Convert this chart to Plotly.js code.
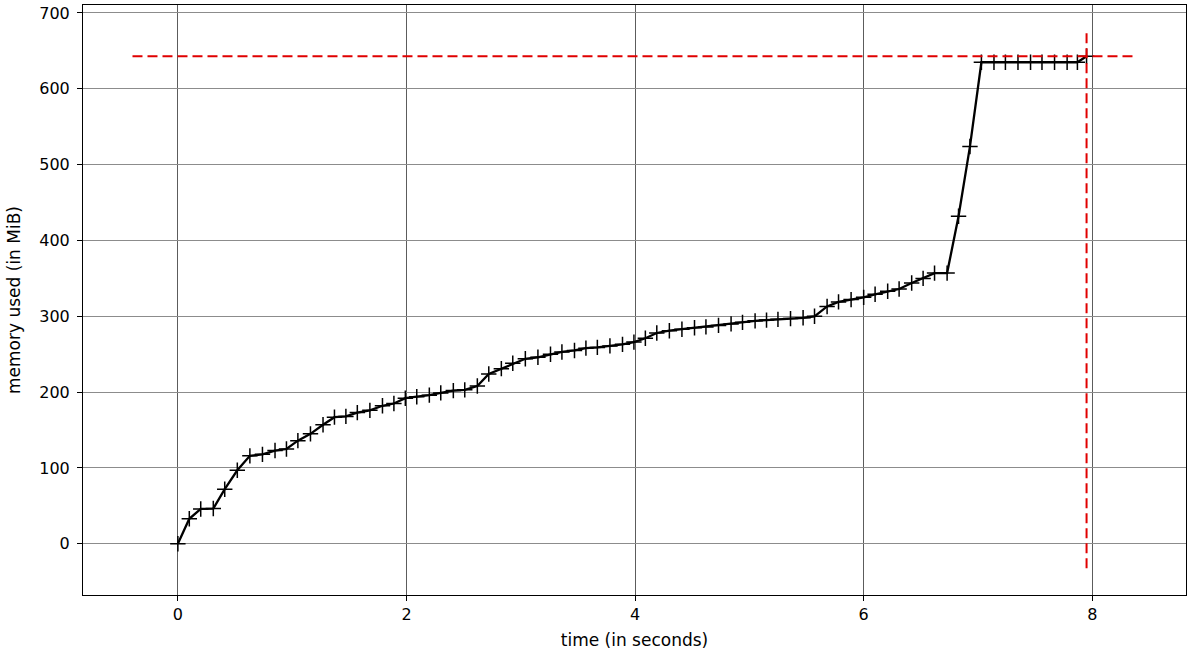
<!DOCTYPE html>
<html>
<head>
<meta charset="utf-8">
<script src="https://cdn.plot.ly/plotly-3.0.1.min.js"></script>
<style>html,body{margin:0;padding:0;background:#fff;}#chart{width:1192px;height:656px;}</style>
</head>
<body>
<div id="chart"></div>
<script>
// time (in seconds)
const times = [0, 0.1, 0.2, 0.31, 0.41, 0.52, 0.63, 0.74, 0.85, 0.95,
  1.05, 1.16, 1.27, 1.37, 1.47, 1.57, 1.68, 1.79, 1.89, 1.99,
  2.09, 2.2, 2.3, 2.41, 2.51, 2.62, 2.72, 2.83, 2.93, 3.04,
  3.15, 3.26, 3.36, 3.47, 3.57, 3.67, 3.78, 3.89, 3.99, 4.09,
  4.19, 4.3, 4.41, 4.52, 4.62, 4.73, 4.84, 4.94, 5.05, 5.15,
  5.25, 5.36, 5.47, 5.57, 5.68, 5.78, 5.89, 6.0, 6.1, 6.21,
  6.31, 6.42, 6.52, 6.62, 6.73, 6.83, 6.93, 7.03, 7.14, 7.24,
  7.35, 7.46, 7.56, 7.67, 7.78, 7.87, 7.95];
// memory used (in MiB)
const memory = [0, 33, 46, 46.5, 72, 97, 116, 118, 123, 125,
  136, 145, 157, 167, 168, 173, 176, 182, 185, 192,
  194, 196, 199, 202, 203, 208, 224, 231, 238, 244,
  246, 250, 253, 255, 258, 259, 261, 263, 266, 271,
  278, 281, 283, 285, 286, 288, 290, 292, 294, 295,
  296, 297, 298, 300, 313, 319, 322, 325, 329, 333,
  336, 344, 350, 357, 357, 432, 524, 635, 635, 635,
  635, 635, 635, 635, 635, 635, 643];
// peak marker lines
const peakMem = 643;
const peakTime = 7.95;
const hlineX = [-0.397, 8.366];
const vlineY = [-32.15, 675.15];
const xTicks = [0, 2, 4, 6, 8];
const yTicks = [0, 100, 200, 300, 400, 500, 600, 700];

const traces = [
  {
    x: times, y: memory, type: 'scatter', mode: 'lines+markers',
    line: {color: '#000000', width: 2.3},
    marker: {symbol: 'cross-thin', size: 11, line: {color: '#000000', width: 1.5}},
    hoverinfo: 'x+y'
  },
  {
    x: hlineX, y: [peakMem, peakMem], type: 'scatter', mode: 'lines',
    line: {color: '#e00000', width: 2, dash: '10px,5px'}
  },
  {
    x: [peakTime, peakTime], y: vlineY, type: 'scatter', mode: 'lines',
    line: {color: '#e00000', width: 2, dash: '10px,5px'}
  }
];

const tickFont = {family: 'DejaVu Sans, sans-serif', size: 16, color: '#000'};
const titleFont = {family: 'DejaVu Sans, sans-serif', size: 17, color: '#000'};

const layout = {
  width: 1192, height: 656,
  paper_bgcolor: '#ffffff', plot_bgcolor: '#ffffff',
  showlegend: false,
  margin: {l: 83, r: 6, t: 5, b: 61},
  font: tickFont,
  xaxis: {
    range: [-0.83, 8.82],
    tickvals: xTicks, ticktext: xTicks.map(String),
    showgrid: true, gridcolor: '#5c5c5c', gridwidth: 1,
    zeroline: false,
    showline: true, linecolor: '#000', linewidth: 1, mirror: true,
    ticks: 'outside', ticklen: 5, tickcolor: '#000', tickwidth: 1,
    tickfont: tickFont,
    title: {text: 'time (in seconds)', font: titleFont, standoff: 10},
    automargin: false
  },
  yaxis: {
    range: [-67.5, 710.5],
    tickvals: yTicks, ticktext: yTicks.map(String),
    showgrid: true, gridcolor: '#8c8c8c', gridwidth: 1,
    zeroline: false,
    showline: true, linecolor: '#000', linewidth: 1, mirror: true,
    ticks: 'outside', ticklen: 5, tickcolor: '#000', tickwidth: 1,
    ticklabelstandoff: 4,
    tickfont: tickFont,
    title: {text: 'memory used (in MiB)', font: titleFont, standoff: 14},
    automargin: false
  }
};

Plotly.newPlot('chart', traces, layout, {displayModeBar: false, staticPlot: true});
</script>
</body>
</html>
